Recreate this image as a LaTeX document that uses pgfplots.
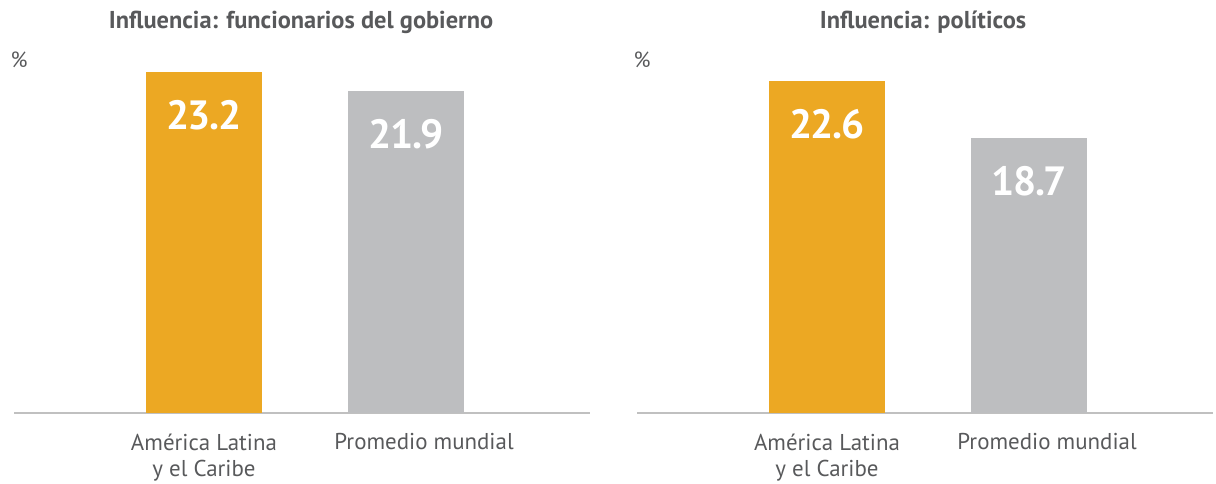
\documentclass[border=0pt]{standalone}
\usepackage{fontspec}
\setmainfont{PT Sans}
\usepackage{pgfplots}
\pgfplotsset{compat=1.18}
\definecolor{orng}{RGB}{236,168,35}
\definecolor{gry}{RGB}{189,190,192}
\definecolor{txt}{RGB}{88,89,91}
\definecolor{axl}{RGB}{192,192,192}
\pgfplotsset{
 panel/.style={scale only axis, width=576bp, height=367.5bp,
  xmin=-0.94, xmax=1.91, ymin=0, ymax=25,
  axis x line*=bottom, axis y line=none,
  x axis line style={-,draw=axl, line width=1.2bp},
  xtick={0,1}, xtick style={draw=none}, ytick=\empty,
  ybar=0pt, bar width=116bp, bar shift=0pt,
  xticklabel style={font=\fontsize{23}{26}\selectfont, text=txt, align=center, anchor=north, yshift=-13bp},
  xticklabels={{América Latina\\y el Caribe},{\hspace*{36bp}Promedio mundial}},
  point meta=explicit symbolic,
  nodes near coords,
  every node near coord/.append style={font=\bfseries\fontsize{41}{41}\selectfont\addfontfeature{LetterSpace=-3}, text=white, anchor=center, yshift=-43bp},
  clip=false}
}
\begin{document}
\begin{tikzpicture}
\useasboundingbox (0,0) rectangle (1216bp,484bp);
\begin{axis}[panel, at={(14bp,71bp)}, anchor=south west]
\addplot[fill=orng, draw=none] coordinates {(0,23.2) [23.2]};
\addplot[fill=gry, draw=none] coordinates {(1,21.9) [21.9]};
\end{axis}
\begin{axis}[panel, at={(637bp,71bp)}, anchor=south west]
\addplot[fill=orng, draw=none] coordinates {(0,22.6) [22.6]};
\addplot[fill=gry, draw=none] coordinates {(1,18.7) [18.7]};
\end{axis}
\node[font=\bfseries\fontsize{24.5}{28}\selectfont, text=txt] at (301bp,462bp) {Influencia: funcionarios del gobierno};
\node[font=\bfseries\fontsize{24.5}{28}\selectfont, text=txt] at (923bp,462bp) {Influencia: políticos};
\node[font=\fontsize{22}{24}\selectfont, text=txt] at (19bp,424bp) {\%};
\node[font=\fontsize{22}{24}\selectfont, text=txt] at (642bp,424bp) {\%};
\end{tikzpicture}
\end{document}
